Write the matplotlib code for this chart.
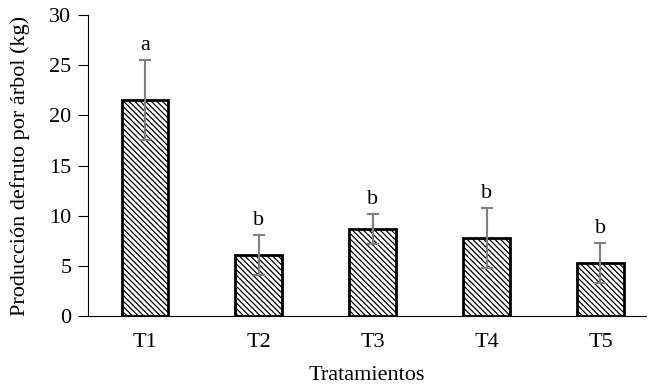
import matplotlib
matplotlib.use("Agg")
import matplotlib.pyplot as plt

# datos
tratamientos = ["T1", "T2", "T3", "T4", "T5"]
produccion = [21.5, 6.1, 8.7, 7.8, 5.3]
error = [4.0, 2.0, 1.5, 3.0, 2.0]
letras = ["a", "b", "b", "b", "b"]

plt.rcParams['font.family'] = ['Liberation Serif', 'DejaVu Serif']
plt.rcParams['hatch.linewidth'] = 0.9

fig = plt.figure(figsize=(6.54, 3.91), dpi=100)
ax = fig.add_axes([0.1346, 0.1918, 0.8532, 0.7698])

x = range(len(tratamientos))
ax.bar(x, produccion, width=0.41, color="white", edgecolor="black",
       linewidth=2, hatch="\\\\\\\\\\\\", zorder=2)
ax.errorbar(x, produccion, yerr=error, fmt="none", ecolor="#7f7f7f",
            elinewidth=1.5, capsize=4, capthick=1.5, zorder=3)

for i in x:
    ax.text(i, produccion[i] + error[i] + 0.5, letras[i], ha="center",
            va="bottom", fontsize=16)

ax.set_xlim(-0.5, 4.4)
ax.set_ylim(0, 30)
ax.set_yticks([0, 5, 10, 15, 20, 25, 30])
ax.set_xticks(list(x))
ax.set_xticklabels(tratamientos)
ax.tick_params(axis="x", length=0, labelsize=16, pad=12)
ax.tick_params(axis="y", length=7, labelsize=16, direction="out", pad=5)
ax.spines["top"].set_visible(False)
ax.spines["right"].set_visible(False)
ax.set_xlabel("Tratamientos", fontsize=16, labelpad=10)
ax.set_ylabel("Producción defruto por árbol (kg)", fontsize=16, labelpad=14)

fig.savefig("out.png", dpi=100)
